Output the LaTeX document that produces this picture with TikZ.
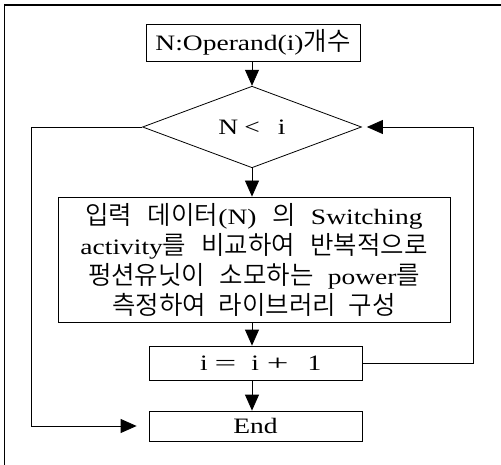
\documentclass[tikz,border=0pt]{standalone}
\usepackage{fontspec}
\setmainfont{Liberation Serif}[FakeStretch=1.25]
\newfontfamily\kr{Noto Sans CJK KR DemiLight}[Scale=1.16]
\usetikzlibrary{shapes.geometric,arrows.meta}
\newcommand{\wideop}[1]{\scalebox{1.4}[1.0]{#1}}
\begin{document}
\begin{tikzpicture}[x=1pt,y=-1pt,
  box/.style={draw,line width=0.8pt,inner sep=0pt,font=\fontsize{22}{30}\selectfont},
  arr/.style={line width=0.8pt,-{Triangle[length=16pt,width=14pt]}},
  ln/.style={line width=0.8pt}]
\useasboundingbox (0,0) rectangle (501,465);
\fill[white] (0,0) rectangle (501,465);
\draw[line width=2pt] (4,5) -- (501,5);
\draw[line width=1.2pt] (4.5,4) -- (4.5,465);

\node[box,minimum width=214pt,minimum height=37pt] (start) at (253,42.5) {N:Operand(i){\kr 개수}};
\node[box,shape=diamond,minimum width=219pt,minimum height=78pt] (cond) at (252,127) {N\hspace{6pt}<\hspace{18pt}i};
\node[box,minimum width=392pt,minimum height=125pt,align=center] (proc) at (254,259.5)
  {\makebox[337pt][s]{{\kr 입력} {\kr 데이터}(N) {\kr 의} Switching}\\
   \makebox[347pt][s]{activity{\kr 를} {\kr 비교하여} {\kr 반복적으로}}\\
   \makebox[332pt][s]{{\kr 펑션유닛이} {\kr 소모하는} power{\kr 를}}\\
   \makebox[283pt][s]{{\kr 측정하여} {\kr 라이브러리} {\kr 구성}}};
\node[box,minimum width=213pt,minimum height=34pt] (inc) at (255.5,363)
  {\makebox[213pt][l]{\hspace{51pt}i\hspace{7pt}\wideop{=}\hspace{15pt}i\hspace{8pt}\wideop{+}\hspace{19pt}1}};
\node[box,minimum width=213pt,minimum height=30pt] (fin) at (255.5,426) {End};

\coordinate (rc) at (473,0);
\coordinate (lc) at (31,0);

\draw[arr] (start.south -| cond.north) -- (cond.north);
\draw[arr] (cond.south) -- (cond.south |- proc.north);
\draw[arr] (proc.south -| cond.south) -- (inc.north -| cond.south);
\draw[arr] (inc.south -| cond.south) -- (fin.north -| cond.south);
\draw[arr,shorten >=5pt] (inc.east) -- (inc.east -| rc) -- (rc |- cond.east) -- (cond.east);
\draw[arr,shorten >=12pt] (cond.west) -- (cond.west -| lc) -- (lc |- fin.west) -- (fin.west);
\end{tikzpicture}
\end{document}
